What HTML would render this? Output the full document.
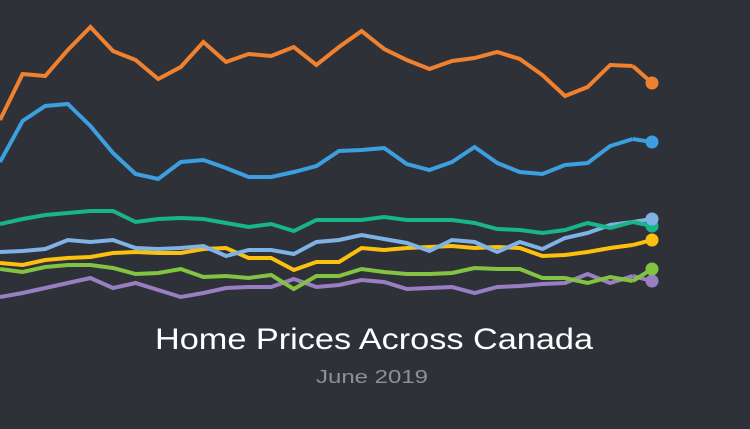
<!DOCTYPE html>
<html><head><meta charset="utf-8"><style>
html,body{margin:0;padding:0;background:#2f3139;}
svg{display:block;}
</style></head><body>
<svg id="chart" width="750" height="429" viewBox="0 0 750 429" xmlns="http://www.w3.org/2000/svg">
<rect width="750" height="429" fill="#2f3139"/>
<g id="lines"></g>
<g id="dots"></g>
<text x="374" y="349" text-anchor="middle" textLength="438" lengthAdjust="spacingAndGlyphs" font-family="Liberation Sans, sans-serif" font-size="30" fill="#ffffff">Home Prices Across Canada</text>
<text x="372" y="383" text-anchor="middle" textLength="112" lengthAdjust="spacingAndGlyphs" font-family="Liberation Sans, sans-serif" font-size="18" fill="#8e9099">June 2019</text>
</svg>
<script>
// Index values (higher = higher price index), 29 monthly points + end value
const months = Array.from({length: 29}, (_, i) => i);
const orange = [200,246,244,270,293,269,260,241,253,278,258,266,264,273,255,273,289,271,260,251,259,262,268,261,245,224,233,255,254];
const blue = [158,199,214,216,194,167,146,141,158,160,152,143,143,148,154,169,170,172,156,150,158,173,157,148,146,155,157,174,181];
const teal = [96,101,105,107,109,109,98,101,102,101,97,93,96,89,100,100,100,103,100,100,100,97,91,90,87,90,97,92,98];
const lightBlue = [68,69,71,80,78,80,72,71,72,74,64,70,70,66,78,80,85,81,77,69,80,78,68,78,71,82,87,95,98];
const yellow = [57,55,60,62,63,67,68,67,67,71,72,62,62,50,58,58,72,70,72,73,74,72,73,72,64,65,68,72,75];
const green = [51,48,53,55,55,52,46,47,51,43,44,42,45,31,44,44,51,48,46,46,47,52,51,51,42,42,37,43,39];
const purple = [23,27,32,37,42,32,37,30,23,27,32,33,33,41,33,35,40,38,31,32,33,27,33,34,36,37,46,37,44];
const endValues = [237,178,94,101,80,51,39];
const seriesNames = ['orange','blue','teal','light-blue','yellow','green','purple'];
const seriesData = [orange, blue, teal, lightBlue, yellow, green, purple];
const colors = ['#f0812e','#3b9fe0','#18b48a','#7fb2e5','#fcc10f','#82c341','#9a7ec2'];

function xPos(i){ return i * 22.6; }
const xEnd = 652;
function yPos(v){ return 320 - v; }

const NS = 'http://www.w3.org/2000/svg';
const gl = document.getElementById('lines');
const gd = document.getElementById('dots');
for (let s = seriesData.length - 1; s >= 0; s--) {
  const d = seriesData[s];
  let pts = months.map(i => xPos(i).toFixed(1) + ',' + yPos(d[i]).toFixed(1));
  const p = document.createElementNS(NS, 'polyline');
  p.setAttribute('points', pts.join(' '));
  p.setAttribute('fill', 'none');
  p.setAttribute('stroke', colors[s]);
  p.setAttribute('stroke-width', '4');
  p.setAttribute('stroke-linejoin', 'miter');
  
  
  gl.appendChild(p);
  const seg = document.createElementNS(NS, 'line');
  seg.setAttribute('x1', xPos(28));
  seg.setAttribute('y1', yPos(d[28]));
  seg.setAttribute('x2', xEnd);
  seg.setAttribute('y2', yPos(endValues[s]));
  seg.setAttribute('stroke', colors[s]);
  seg.setAttribute('stroke-width', '4');
  
  
  gl.appendChild(seg);
}
const dotOrder = [6, 0, 1, 2, 3, 4, 5];
for (const s of dotOrder) {
  const c = document.createElementNS(NS, 'circle');
  c.setAttribute('cx', xEnd);
  c.setAttribute('cy', yPos(endValues[s]));
  c.setAttribute('r', '6.5');
  c.setAttribute('fill', colors[s]);
  
  
  gd.appendChild(c);
}
</script>
</body></html>
